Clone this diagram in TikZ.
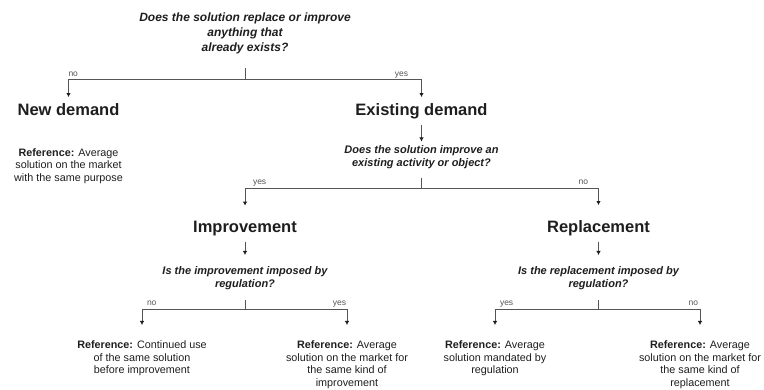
\documentclass[tikz,border=0pt]{standalone}
\usepackage{fontspec}
\setmainfont{Liberation Sans}
\usetikzlibrary{arrows.meta}
\definecolor{ink}{HTML}{1E1E1E}
\definecolor{wire}{HTML}{555555}
\begin{document}
\begin{tikzpicture}[x=1pt,y=-1pt,
  every node/.style={inner sep=0pt, outer sep=0pt, text=ink},
  heading/.style={font=\fontsize{16.5}{20}\selectfont\bfseries, anchor=base},
  question/.style={font=\fontsize{11}{12.5}\selectfont\bfseries\itshape, align=center, anchor=north},
  refnote/.style={font=\fontsize{10.8}{12.4}\selectfont, align=center, anchor=north},
  branch/.style={font=\fontsize{8.5}{10}\selectfont, text=wire},
  wireline/.style={draw=wire, line width=0.8pt},
  arr/.style={wireline, -{Latex[length=4pt,width=4.5pt,color=ink]}},
]
\useasboundingbox (0,0) rectangle (764,390);

% questions and outcomes
\node[question, font=\fontsize{12}{15}\selectfont\bfseries\itshape] (q1) at (245,13.2)
  {Does the solution replace or improve\\anything that\\already exists?};
\node[heading] (newd) at (68.5,116) {New demand};
\node[heading] (exist) at (421.5,116) {Existing demand};
\node[refnote] (newref) at (68.5,148.7)
  {\textbf{Reference:} Average\\solution on the market\\with the same purpose};
\node[question] (q2) at (421.5,146) {Does the solution improve an\\existing activity or object?};
\node[heading] (impr) at (245,233) {Improvement};
\node[heading] (repl) at (598.5,233) {Replacement};
\node[question] (q3) at (245,267) {Is the improvement imposed by\\regulation?};
\node[question] (q4) at (598.5,267) {Is the replacement imposed by\\regulation?};
\node[refnote] (impA) at (142,341)
  {\textbf{Reference:} Continued use\\of the same solution\\before improvement};
\node[refnote] (impB) at (347,341)
  {\textbf{Reference:} Average\\solution on the market for\\the same kind of\\improvement};
\node[refnote] (repA) at (495,341)
  {\textbf{Reference:} Average\\solution mandated by\\regulation};
\node[refnote] (repB) at (700,341)
  {\textbf{Reference:} Average\\solution on the market for\\the same kind of\\replacement};

% branch junctions
\coordinate (j1) at (245,79.3);
\coordinate (j2) at (421.5,188.3);
\coordinate (j3) at (245,309.3);
\coordinate (j4) at (598.5,309.3);

% level 1
\draw[wireline, shorten <=13.5pt] (q1.south) -- (j1);
\draw[arr, shorten >=7pt] (j1) -| (newd.north);
\draw[arr, shorten >=7pt] (j1) -| (exist.north);
\node[branch, anchor=base west] (l1no) at (68.5,77) {no};
\node[branch, anchor=base east] (l1yes) at (408,77) {yes};

% level 2
\draw[arr, shorten <=5.5pt, shorten >=4.5pt] (exist.south) -- (q2.north);
\draw[wireline, shorten <=9.2pt] (q2.south) -- (j2);
\draw[arr, shorten >=16pt] (j2) -| (impr.north);
\draw[arr, shorten >=16pt] (j2) -| (repl.north);
\node[branch, anchor=base west] (l2yes) at (253,185) {yes};
\node[branch, anchor=base east] (l2no) at (588,185) {no};

% level 3, improvement side
\draw[arr, shorten <=5.5pt, shorten >=12pt] (impr.south) -- (q3.north);
\draw[wireline, shorten <=10pt] (q3.south) -- (j3);
\draw[arr, shorten >=16pt] (j3) -| (impA.north);
\draw[arr, shorten >=16pt] (j3) -| (impB.north);
\node[branch, anchor=base west] (l3no) at (147,306) {no};
\node[branch, anchor=base east] (l3yes) at (346,306) {yes};

% level 3, replacement side
\draw[arr, shorten <=5.5pt, shorten >=12pt] (repl.south) -- (q4.north);
\draw[wireline, shorten <=10pt] (q4.south) -- (j4);
\draw[arr, shorten >=16pt] (j4) -| (repA.north);
\draw[arr, shorten >=16pt] (j4) -| (repB.north);
\node[branch, anchor=base west] (l4yes) at (500,306) {yes};
\node[branch, anchor=base east] (l4no) at (698,306) {no};
\end{tikzpicture}
\end{document}
